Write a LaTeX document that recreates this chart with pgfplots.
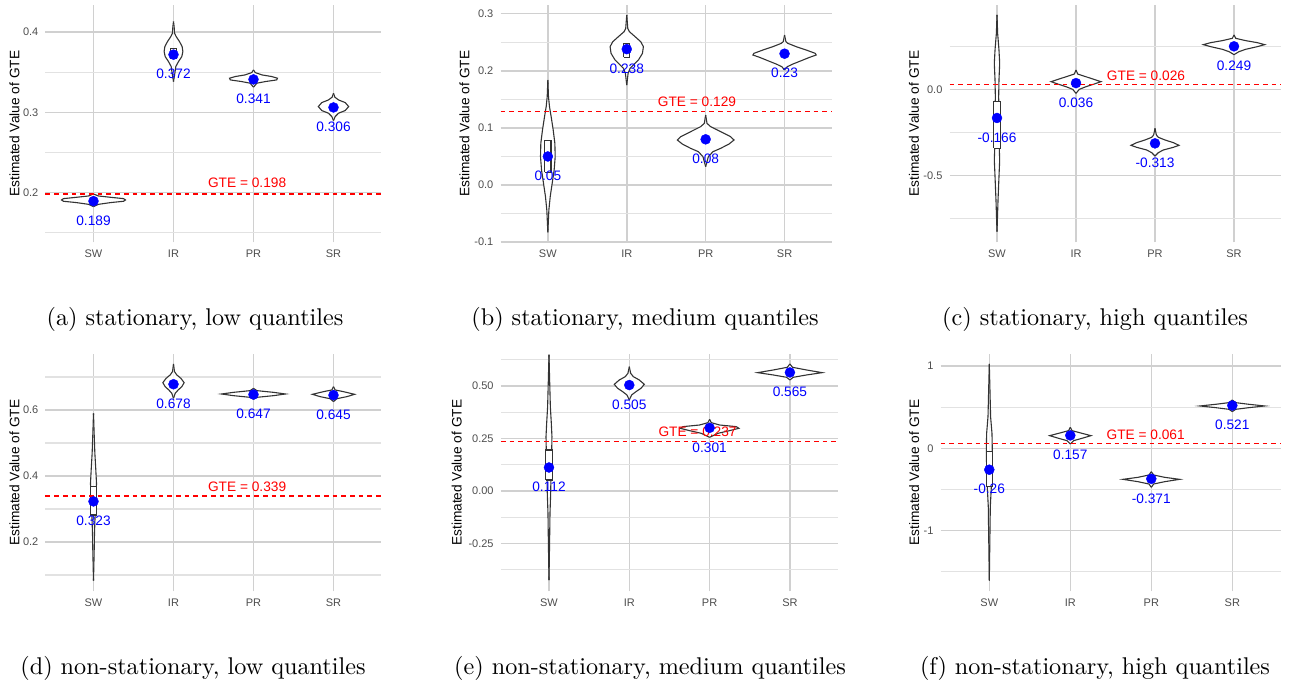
\documentclass[border=0pt]{standalone}
\usepackage{fontspec}
\usepackage{pgfplots}
\usepackage{pgfplotstable}
\pgfplotsset{compat=1.18}
\newfontfamily\arial{Liberation Sans}
\newfontfamily\capfont{lmroman10-regular.otf}
\definecolor{tickgray}{HTML}{4D4D4D}
\definecolor{vcol}{HTML}{333333}
\definecolor{gmaj}{RGB}{208,208,208}
\definecolor{gmin}{RGB}{226,226,226}
\definecolor{ptblue}{HTML}{0000FF}
\definecolor{gtered}{HTML}{FF0000}

% violin outlines: y, half width (category units)
\pgfplotstableread{
y w
0.1979 0
0.1954 0.0625
0.1938 0.21
0.1921 0.375
0.1904 0.40
0.1888 0.375
0.1871 0.21
0.1850 0.0625
0.1821 0
}\vaSW
\pgfplotstableread{
y w
0.4133 0
0.4071 0.008
0.3988 0.0125
0.3946 0.033
0.3883 0.075
0.3821 0.108
0.3758 0.117
0.3696 0.104
0.3633 0.0625
0.3571 0.029
0.3488 0.017
0.3383 0
}\vaIR
\pgfplotstableread{
y w
0.3529 0
0.3496 0.021
0.3467 0.104
0.3446 0.229
0.3425 0.30
0.3404 0.29
0.3383 0.146
0.3363 0.042
0.3313 0
}\vaPR
\pgfplotstableread{
y w
0.3238 0
0.3188 0.017
0.3154 0.0625
0.3121 0.146
0.3071 0.19
0.3021 0.146
0.2988 0.0625
0.2946 0.021
0.2896 0
}\vaSR
\pgfplotstableread{
y w
0.1839 0
0.1547 0.008
0.1372 0.021
0.1197 0.042
0.0963 0.068
0.0730 0.089
0.0496 0.093
0.0263 0.080
0.0029 0.055
-0.0204 0.030
-0.0438 0.013
-0.0829 0
}\vbSW
\pgfplotstableread{
y w
0.2977 0
0.2744 0.013
0.2685 0.034
0.2598 0.106
0.2510 0.177
0.2423 0.211
0.2306 0.199
0.2189 0.148
0.2102 0.084
0.2043 0.042
0.1956 0.017
0.1751 0
}\vbIR
\pgfplotstableread{
y w
0.1226 0
0.1080 0.017
0.1022 0.063
0.0934 0.190
0.0846 0.317
0.0788 0.359
0.0718 0.296
0.0642 0.190
0.0584 0.093
0.0496 0.034
0.0321 0
}\vbPR
\pgfplotstableread{
y w
0.2627 0
0.2510 0.017
0.2481 0.042
0.2423 0.148
0.2364 0.275
0.2306 0.389
0.2277 0.401
0.2236 0.317
0.2177 0.211
0.2119 0.106
0.2072 0.034
0.2014 0
}\vbSR
\pgfplotstableread{
y w
0.4305 0
0.3243 0.008
0.2278 0.025
0.1506 0.034
0.0540 0.025
-0.0425 0.021
-0.1583 0.025
-0.2934 0.025
-0.4093 0.034
-0.5058 0.025
-0.6409 0.013
-0.8243 0
}\vcSW
\pgfplotstableread{
y w
0.1120 0
0.0888 0.021
0.0695 0.148
0.0444 0.316
0.0309 0.232
0.0154 0.127
0.0000 0.042
-0.0232 0
}\vcIR
\pgfplotstableread{
y w
-0.2259 0
-0.2645 0.017
-0.2780 0.042
-0.2934 0.127
-0.3089 0.232
-0.3243 0.304
-0.3359 0.232
-0.3514 0.105
-0.3668 0.042
-0.3861 0
}\vcPR
\pgfplotstableread{
y w
0.3147 0
0.2954 0.021
0.2819 0.148
0.2703 0.295
0.2587 0.388
0.2471 0.295
0.2317 0.148
0.2181 0.063
0.2008 0
}\vcSR
\pgfplotstableread{
y w
0.5899 0
0.5293 0.008
0.4687 0.017
0.4182 0.029
0.3778 0.0375
0.3374 0.033
0.2869 0.021
0.2263 0.0125
0.1657 0.008
0.0828 0
}\vdSW
\pgfplotstableread{
y w
0.7394 0
0.7162 0.0125
0.7061 0.042
0.6960 0.092
0.6828 0.133
0.6707 0.104
0.6606 0.058
0.6505 0.021
0.6354 0
}\vdIR
\pgfplotstableread{
y w
0.6657 0
0.6586 0.042
0.6535 0.25
0.6485 0.40
0.6434 0.25
0.6384 0.042
0.6323 0
}\vdPR
\pgfplotstableread{
y w
0.6707 0
0.6606 0.021
0.6556 0.125
0.6475 0.263
0.6404 0.167
0.6343 0.042
0.6253 0
}\vdSR
\pgfplotstableread{
y w
0.6483 0
0.5292 0.008
0.4020 0.017
0.3226 0.029
0.2590 0.037
0.1796 0.033
0.0842 0.025
-0.0111 0.021
-0.1065 0.0125
-0.2336 0.008
-0.4243 0
}\veSW
\pgfplotstableread{
y w
0.5927 0
0.5609 0.017
0.5450 0.050
0.5292 0.124
0.5085 0.187
0.4894 0.145
0.4735 0.083
0.4576 0.029
0.4338 0
}\veIR
\pgfplotstableread{
y w
0.3416 0
0.3258 0.021
0.3146 0.124
0.3067 0.332
0.2987 0.365
0.2876 0.249
0.2749 0.104
0.2558 0
}\vePR
\pgfplotstableread{
y w
0.6054 0
0.5895 0.033
0.5768 0.207
0.5641 0.402
0.5530 0.207
0.5419 0.041
0.5292 0
}\veSR
\pgfplotstableread{
y w
1.0264 0
0.7099 0.008
0.3854 0.016
0.1826 0.033
-0.0203 0.037
-0.2231 0.033
-0.4665 0.025
-0.7099 0.0125
-1.0345 0.008
-1.6105 0
}\vfSW
\pgfplotstableread{
y w
0.2556 0
0.2150 0.021
0.1826 0.144
0.1542 0.255
0.1217 0.144
0.0933 0.041
0.0527 0
}\vfIR
\pgfplotstableread{
y w
-0.2840 0
-0.3245 0.029
-0.3529 0.165
-0.3773 0.350
-0.4057 0.165
-0.4341 0.029
-0.4746 0
}\vfPR
\pgfplotstableread{
y w
0.5882 0
0.5558 0.041
0.5355 0.206
0.5152 0.400
0.4949 0.206
0.4746 0.041
0.4462 0
}\vfSR

\newcommand{\lab}{\arial\fontsize{13.7}{16}\selectfont}
\newcommand{\capt}{\capfont\fontsize{24.2}{29}\selectfont}

% #1 category position, #2 outline table; each half is filled white
% (its two ends sit on the centre line), then both outlines are drawn
\newcommand{\violin}[2]{%
  \addplot[fill=white, draw=none] table[x expr=#1+\thisrow{w}, y=y] {#2};
  \addplot[fill=white, draw=none] table[x expr=#1-\thisrow{w}, y=y] {#2};
  \addplot[vline] table[x expr=#1+\thisrow{w}, y=y] {#2};
  \addplot[vline] table[x expr=#1-\thisrow{w}, y=y] {#2};
}
% #1 category, #2 lower hinge, #3 upper hinge
\newcommand{\qbox}[3]{%
  \addplot[vline, fill=white] coordinates {(#1-0.04,#2) (#1+0.04,#2) (#1+0.04,#3) (#1-0.04,#3) (#1-0.04,#2)};
}

\tikzset{gtelab/.style={font=\lab, text=gtered, anchor=center}}
\pgfplotsset{
  vline/.style={draw=vcol, line width=1.1pt},
  gte/.style={draw=gtered, line width=1.3pt, dash pattern=on 4.7pt off 4pt},
  pts/.style={only marks, mark=*, mark size=5pt, color=ptblue,
    point meta=explicit symbolic, nodes near coords={\pgfplotspointmeta},
    every node near coord/.append style={font=\lab, text=ptblue, anchor=center, yshift=-19.5pt}},
  panel/.style={
    scale only axis, height=237.5pt, anchor=south west, clip=false,
    axis line style={draw=none},
    xmin=0.4, xmax=4.6, xtick={1,2,3,4}, xticklabels={SW,IR,PR,SR},
    grid=both,
    major grid style={draw=gmaj, line width=1.5pt},
    minor grid style={draw=gmin, line width=1.1pt},
    major tick length=0pt, minor tick length=0pt,
    /pgf/number format/assume math mode=true,
    tick label style={font=\arial\fontsize{11}{13}\selectfont, text=tickgray},
    yticklabel style={anchor=east, inner sep=0pt, xshift=-7pt},
    xticklabel style={anchor=base, inner sep=0pt, yshift=-14.7pt},
    ylabel={Estimated Value of GTE},
    ylabel style={font=\lab, text=black, anchor=center},
  },
}

\begin{document}
\begin{tikzpicture}

% (a)
\begin{axis}[panel, at={(45.5pt,439.5pt)}, width=336pt,
  ymin=0.1373, ymax=0.434,
  ytick={0.2,0.3,0.4}, yticklabels={0.2,0.3,0.4}, minor ytick={0.15,0.25,0.35},
  ylabel style={at={([xshift=-31pt]axis description cs:0,0.5)}}]
\violin{1}{\vaSW}
\violin{2}{\vaIR}
\violin{3}{\vaPR}
\violin{4}{\vaSR}
\qbox{2}{0.3675}{0.380}
\addplot[gte] coordinates {(0.4,0.198) (4.6,0.198)};
\node[gtelab, yshift=11pt] at (axis cs:2.92,0.198) {GTE = 0.198};
\addplot[pts] table[meta=lab] {
x y lab
1 0.189 0.189
2 0.372 0.372
3 0.341 0.341
4 0.306 0.306
};
\end{axis}

% (b)
\begin{axis}[panel, at={(500.5pt,439.5pt)}, width=331.4pt,
  ymin=-0.1007, ymax=0.3153,
  ytick={-0.1,0,0.1,0.2,0.3}, yticklabels={-0.1,0.0,0.1,0.2,0.3},
  minor ytick={-0.05,0.05,0.15,0.25},
  ylabel style={at={([xshift=-36pt]axis description cs:0,0.5)}}]
\violin{1}{\vbSW}
\violin{2}{\vbIR}
\violin{3}{\vbPR}
\violin{4}{\vbSR}
\qbox{1}{0.0222}{0.0776}
\qbox{2}{0.2236}{0.2481}
\addplot[gte] coordinates {(0.4,0.129) (4.6,0.129)};
\node[gtelab, yshift=9.7pt] at (axis cs:2.89,0.129) {GTE = 0.129};
\addplot[pts] table[meta=lab] {
x y lab
1 0.05 0.05
2 0.238 0.238
3 0.08 0.08
4 0.23 0.23
};
\end{axis}

% (c)
\begin{axis}[panel, at={(949.6pt,439.5pt)}, width=331.8pt,
  ymin=-0.887, ymax=0.4884,
  ytick={-0.5,0}, yticklabels={-0.5,0.0}, minor ytick={-0.75,-0.25,0.25},
  ylabel style={at={([xshift=-35.6pt]axis description cs:0,0.5)}}]
\violin{1}{\vcSW}
\violin{2}{\vcIR}
\violin{3}{\vcPR}
\violin{4}{\vcSR}
\qbox{1}{-0.3417}{-0.0714}
\addplot[gte] coordinates {(0.4,0.026) (4.6,0.026)};
\node[gtelab, yshift=8.8pt] at (axis cs:2.886,0.026) {GTE = 0.026};
\addplot[pts] table[meta=lab] {
x y lab
1 -0.166 -0.166
2 0.036 0.036
3 -0.313 -0.313
4 0.249 0.249
};
\end{axis}

% (d)
\begin{axis}[panel, at={(45.5pt,90.5pt)}, width=336pt,
  ymin=0.05, ymax=0.7697,
  ytick={0.2,0.4,0.6}, yticklabels={0.2,0.4,0.6}, minor ytick={0.1,0.3,0.5,0.7},
  ylabel style={at={([xshift=-31pt]axis description cs:0,0.5)}}]
\violin{1}{\vdSW}
\violin{2}{\vdIR}
\violin{3}{\vdPR}
\violin{4}{\vdSR}
\qbox{1}{0.2818}{0.3677}
\addplot[gte] coordinates {(0.4,0.339) (4.6,0.339)};
\node[gtelab, yshift=9.5pt] at (axis cs:2.92,0.339) {GTE = 0.339};
\addplot[pts] table[meta=lab] {
x y lab
1 0.323 0.323
2 0.678 0.678
3 0.647 0.647
4 0.645 0.645
};
\end{axis}

% (e)
\begin{axis}[panel, at={(500.8pt,90.5pt)}, width=337.3pt,
  ymin=-0.479, ymax=0.653,
  ytick={-0.25,0,0.25,0.5}, yticklabels={-0.25,0.00,0.25,0.50},
  minor ytick={-0.375,-0.125,0.125,0.375,0.625},
  ylabel style={at={([xshift=-44pt]axis description cs:0,0.5)}}]
\violin{1}{\veSW}
\violin{2}{\veIR}
\violin{3}{\vePR}
\violin{4}{\veSR}
\qbox{1}{0.0524}{0.1955}
\addplot[gte] coordinates {(0.4,0.237) (4.6,0.237)};
\node[gtelab, yshift=9.7pt] at (axis cs:2.85,0.237) {GTE = 0.237};
\addplot[pts] table[meta=lab] {
x y lab
1 0.112 0.112
2 0.505 0.505
3 0.301 0.301
4 0.565 0.565
};
\end{axis}

% (f)
\begin{axis}[panel, at={(940.7pt,90.5pt)}, width=340.2pt,
  ymin=-1.7417, ymax=1.1476,
  ytick={-1,0,1}, yticklabels={-1,0,1}, minor ytick={-1.5,-0.5,0.5},
  ylabel style={at={([xshift=-26.4pt]axis description cs:0,0.5)}}]
\violin{1}{\vfSW}
\violin{2}{\vfIR}
\violin{3}{\vfPR}
\violin{4}{\vfSR}
\qbox{1}{-0.4665}{-0.0406}
\addplot[gte] coordinates {(0.4,0.061) (4.6,0.061)};
\node[gtelab, yshift=8.3pt] at (axis cs:2.93,0.061) {GTE = 0.061};
\addplot[pts] table[meta=lab] {
x y lab
1 -0.26 -0.26
2 0.157 0.157
3 -0.371 -0.371
4 0.521 0.521
};
\end{axis}

% sub-captions
\node[font=\capt, anchor=base] at (195pt,356.3pt) {(a) stationary, low quantiles};
\node[font=\capt, anchor=base] at (645pt,356.3pt) {(b) stationary, medium quantiles};
\node[font=\capt, anchor=base] at (1095pt,356.3pt) {(c) stationary, high quantiles};
\node[font=\capt, anchor=base] at (193pt,7.3pt) {(d) non-stationary, low quantiles};
\node[font=\capt, anchor=base] at (650pt,7.3pt) {(e) non-stationary, medium quantiles};
\node[font=\capt, anchor=base] at (1095pt,7.3pt) {(f) non-stationary, high quantiles};

\pgfresetboundingbox
\path (0pt,0pt) rectangle (1299pt,682pt);
\end{tikzpicture}
\end{document}
